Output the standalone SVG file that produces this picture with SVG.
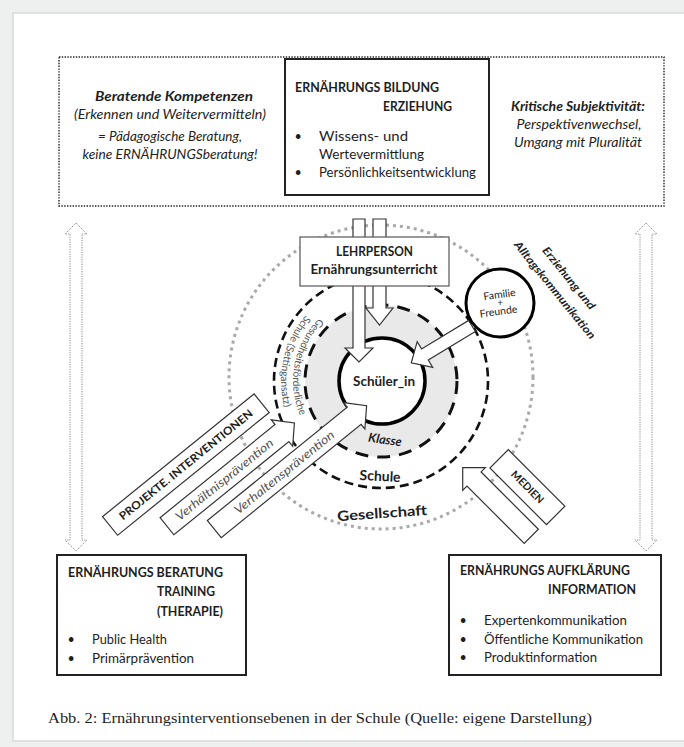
<svg xmlns="http://www.w3.org/2000/svg" width="684" height="747" viewBox="0 0 684 747">
<style>
.t{font-family:Lato,"Liberation Sans",Arial,sans-serif;fill:#1e1e1e}
.b{font-weight:700}
.i{font-style:italic}
.g{fill:#555}
.box{fill:#fff;stroke:#222;stroke-width:2}
.blk{fill:#fff;stroke:#333;stroke-width:1.2}
.dbl{fill:#fff;stroke:#8a8a8a;stroke-width:1;stroke-dasharray:1.2 1.2}
</style>
<defs>
<!-- arcs for the setting label, around the school centre (381,381) -->
<path id="arcInner" d="M322.1,315.6 A88,88 0 0,0 313.6,437.6"/>
<path id="arcOuter" d="M314.1,306.7 A100,100 0 0,0 304.4,445.3"/>
</defs>

<!-- page -->
<rect x="0" y="0" width="684" height="747" fill="#eef0f0"/>
<rect x="13" y="13" width="680" height="728" fill="#fff" stroke="#d6dada" stroke-width="1.5"/>

<!-- top frame: dotted box with the central education box -->
<g id="frame-top">
  <rect x="59" y="57" width="605" height="149" fill="none" stroke="#222" stroke-width="1.4" stroke-dasharray="1.4 1.4"/>
  <text class="t b i" x="174" y="101" font-size="13" text-anchor="middle" textLength="158" lengthAdjust="spacingAndGlyphs">Beratende Kompetenzen</text>
  <text class="t i" x="170" y="119" font-size="13" text-anchor="middle" textLength="192" lengthAdjust="spacingAndGlyphs">(Erkennen und Weitervermitteln)</text>
  <text class="t i" x="170" y="141" font-size="13" text-anchor="middle" textLength="144" lengthAdjust="spacingAndGlyphs">= Pädagogische Beratung,</text>
  <text class="t i" x="170" y="159" font-size="13" text-anchor="middle" textLength="175" lengthAdjust="spacingAndGlyphs">keine ERNÄHRUNGSberatung!</text>
  <text class="t b i" x="578" y="111" font-size="13" text-anchor="middle" textLength="134" lengthAdjust="spacingAndGlyphs">Kritische Subjektivität:</text>
  <text class="t i" x="579" y="129" font-size="13" text-anchor="middle" textLength="125" lengthAdjust="spacingAndGlyphs">Perspektivenwechsel,</text>
  <text class="t i" x="578" y="147" font-size="13" text-anchor="middle" textLength="128" lengthAdjust="spacingAndGlyphs">Umgang mit Pluralität</text>
</g>

<g id="box-bildung">
  <rect class="box" x="285" y="59" width="204" height="136"/>
  <text class="t b" x="295" y="92" font-size="12.5" textLength="144" lengthAdjust="spacingAndGlyphs">ERNÄHRUNGS BILDUNG</text>
  <text class="t b" x="383" y="111" font-size="12.5" textLength="69" lengthAdjust="spacingAndGlyphs">ERZIEHUNG</text>
  <text class="t" x="298" y="141" font-size="12.5" text-anchor="middle">•</text>
  <text class="t" x="319" y="141" font-size="12.5" textLength="89" lengthAdjust="spacingAndGlyphs">Wissens- und</text>
  <text class="t" x="319" y="159" font-size="12.5" textLength="105" lengthAdjust="spacingAndGlyphs">Wertevermittlung</text>
  <text class="t" x="298" y="177" font-size="12.5" text-anchor="middle">•</text>
  <text class="t" x="319" y="177" font-size="12.5" textLength="157" lengthAdjust="spacingAndGlyphs">Persönlichkeitsentwicklung</text>
</g>

<!-- vertical double arrows at the sides -->
<g id="side-arrows">
  <polygon class="dbl" points="76,223 87,234 82,234 82,540 87,540 76,551 65,540 70,540 70,234 65,234"/>
  <polygon class="dbl" points="646,223 657,234 652,234 652,540 657,540 646,551 635,540 640,540 640,234 635,234"/>
</g>

<!-- concentric levels -->
<g id="gesellschaft">
  <circle cx="381" cy="377" r="152" fill="none" stroke="#a9a9a9" stroke-width="3" stroke-dasharray="3 4"/>
</g>
<g id="schule">
  <circle cx="381" cy="381" r="107" fill="none" stroke="#111" stroke-width="2.6" stroke-dasharray="9 5"/>
</g>
<g id="klasse">
  <circle cx="381" cy="381" r="76" fill="#e9e9e9" stroke="#111" stroke-width="3" stroke-dasharray="13 9"/>
</g>
<g id="setting-label">
  <text class="t g" font-size="10.3"><textPath href="#arcInner" startOffset="4">Gesundheitsförderliche</textPath></text>
  <text class="t g" font-size="10.3"><textPath href="#arcOuter" startOffset="12">Schule (Settingansatz)</textPath></text>
</g>
<g id="schueler">
  <circle cx="382" cy="381" r="43" fill="#fff" stroke="#000" stroke-width="3.5"/>
  <text class="t b" x="384" y="386" font-size="13" text-anchor="middle" textLength="62" lengthAdjust="spacingAndGlyphs">Schüler_in</text>
</g>

<!-- connectors: block arrows -->
<g id="connectors">
  <polygon class="blk" points="353,219 365,219 365,348 373,348 359,362 345,348 353,348"/>
  <polygon class="blk" points="373,219 386,219 386,308 393,308 379.5,325 366,308 373,308"/>
  <polygon class="blk" transform="translate(472,326) rotate(148.8)" points="0,-6.5 55,-6.5 55,-15 71,0 55,15 55,6.5 0,6.5"/>
  <g transform="translate(188,468) rotate(-39)">
    <polygon class="blk" points="-53,21 95,21 95,15 111,32 95,49 95,43 -53,43"/>
    <polygon class="blk" points="-18,53 162,53 162,47 178,64 162,81 162,75 -18,75"/>
  </g>
  <polygon class="blk" transform="translate(497,502) rotate(45)" points="48.5,-10 -32.5,-10 -32.5,-16 -48.5,0 -32.5,16 -32.5,10 48.5,10"/>
</g>

<g id="lehrperson">
  <rect x="300" y="237" width="149" height="49" fill="#fff" stroke="#555" stroke-width="1.2"/>
  <text class="t b" x="374.5" y="255.5" font-size="12.5" text-anchor="middle" textLength="77" lengthAdjust="spacingAndGlyphs">LEHRPERSON</text>
  <text class="t b" x="374" y="273.5" font-size="12.5" text-anchor="middle" textLength="127" lengthAdjust="spacingAndGlyphs">Ernährungsunterricht</text>
</g>

<g id="familie">
  <circle cx="500" cy="303" r="34" fill="#fff" stroke="#000" stroke-width="3"/>
  <text class="t" x="500" y="298" font-size="10.5" text-anchor="middle" transform="rotate(-8 500 298)">Familie</text>
  <text class="t" x="500" y="306" font-size="9" text-anchor="middle">+</text>
  <text class="t" x="499" y="315" font-size="10.5" text-anchor="middle" transform="rotate(-8 499 315)">Freunde</text>
</g>

<g id="alltag-label">
  <text class="t b i" x="569" y="282" font-size="11" text-anchor="middle" transform="rotate(51 569 278)" textLength="77" lengthAdjust="spacingAndGlyphs">Erziehung und</text>
  <text class="t b i" x="555" y="294" font-size="11" text-anchor="middle" transform="rotate(51 555 290)" textLength="122" lengthAdjust="spacingAndGlyphs">Alltagskommunikation</text>
</g>

<g id="level-labels">
  <text class="t b i" x="385" y="444" font-size="12.5" text-anchor="middle" transform="rotate(8 385 440)">Klasse</text>
  <text class="t b" x="380" y="481" font-size="14" text-anchor="middle" transform="rotate(3 380 477)">Schule</text>
  <text class="t b" x="382" y="518" font-size="14" text-anchor="middle" transform="rotate(-4 382 513)" textLength="90" lengthAdjust="spacingAndGlyphs">Gesellschaft</text>
</g>

<g id="interventionen" transform="translate(188,468) rotate(-39)">
  <rect x="-97" y="-16" width="195" height="24" fill="#fff" stroke="#333" stroke-width="1.2"/>
  <text class="t b" x="0.5" y="0" font-size="11" text-anchor="middle" textLength="168" lengthAdjust="spacingAndGlyphs">PROJEKTE. INTERVENTIONEN</text>
  <text class="t i g" x="21" y="36" font-size="12" text-anchor="middle" textLength="122" lengthAdjust="spacingAndGlyphs">Verhältnisprävention</text>
  <text class="t i g" x="72" y="68" font-size="12" text-anchor="middle" textLength="125" lengthAdjust="spacingAndGlyphs">Verhaltensprävention</text>
</g>

<g id="medien" transform="translate(497,502) rotate(45)">
  <rect x="-29" y="-45" width="80" height="26" fill="#fff" stroke="#333" stroke-width="1.2"/>
  <text class="t b" x="11" y="-28.5" font-size="10.5" text-anchor="middle">MEDIEN</text>
</g>

<g id="box-beratung">
  <rect class="box" x="57" y="555" width="189" height="120"/>
  <text class="t b" x="68" y="577" font-size="12.5" textLength="155" lengthAdjust="spacingAndGlyphs">ERNÄHRUNGS BERATUNG</text>
  <text class="t b" x="157" y="596" font-size="12.5" textLength="58" lengthAdjust="spacingAndGlyphs">TRAINING</text>
  <text class="t b" x="157" y="616" font-size="12.5" textLength="66" lengthAdjust="spacingAndGlyphs">(THERAPIE)</text>
  <text class="t" x="71" y="644" font-size="12.5" text-anchor="middle">•</text>
  <text class="t" x="92" y="644" font-size="12.5" textLength="75" lengthAdjust="spacingAndGlyphs">Public Health</text>
  <text class="t" x="71" y="663" font-size="12.5" text-anchor="middle">•</text>
  <text class="t" x="92" y="663" font-size="12.5" textLength="102" lengthAdjust="spacingAndGlyphs">Primärprävention</text>
</g>

<g id="box-aufklaerung">
  <rect class="box" x="449" y="555" width="212" height="120"/>
  <text class="t b" x="460" y="575" font-size="12.5" textLength="170" lengthAdjust="spacingAndGlyphs">ERNÄHRUNGS AUFKLÄRUNG</text>
  <text class="t b" x="548" y="594" font-size="12.5" textLength="88" lengthAdjust="spacingAndGlyphs">INFORMATION</text>
  <text class="t" x="463" y="625" font-size="12.5" text-anchor="middle">•</text>
  <text class="t" x="484" y="625" font-size="12.5" textLength="143" lengthAdjust="spacingAndGlyphs">Expertenkommunikation</text>
  <text class="t" x="463" y="644" font-size="12.5" text-anchor="middle">•</text>
  <text class="t" x="484" y="644" font-size="12.5" textLength="159" lengthAdjust="spacingAndGlyphs">Öffentliche Kommunikation</text>
  <text class="t" x="463" y="662" font-size="12.5" text-anchor="middle">•</text>
  <text class="t" x="484" y="662" font-size="12.5" textLength="113" lengthAdjust="spacingAndGlyphs">Produktinformation</text>
</g>

<text x="48" y="723" font-family="'Liberation Serif','Times New Roman',serif" font-size="14.5" fill="#1e1e1e" textLength="544" lengthAdjust="spacingAndGlyphs">Abb. 2: Ernährungsinterventionsebenen in der Schule (Quelle: eigene Darstellung)</text>
</svg>
